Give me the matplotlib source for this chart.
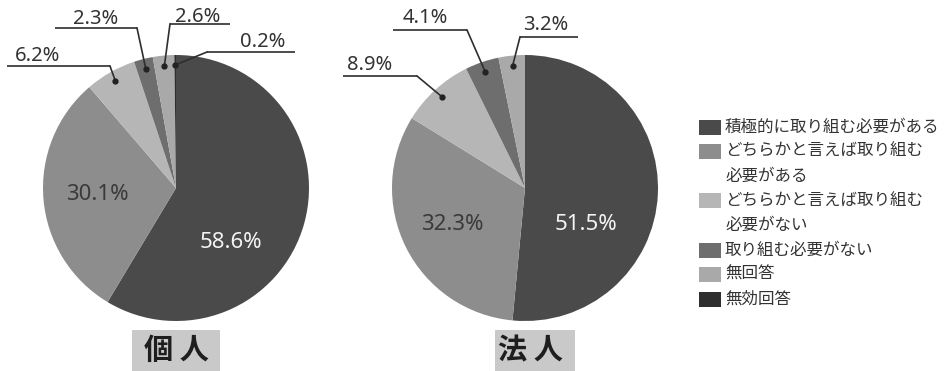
import matplotlib
matplotlib.use('Agg')
import matplotlib.pyplot as plt
from matplotlib.patches import Rectangle
import numpy as np

plt.rcParams['font.family'] = ['Noto Sans CJK JP', 'DejaVu Sans']

# ---------------- data ----------------
categories = ['積極的に取り組む必要がある',
              'どちらかと言えば取り組む\n必要がある',
              'どちらかと言えば取り組む\n必要がない',
              '取り組む必要がない',
              '無回答',
              '無効回答']
kojin_values = [58.6, 30.1, 6.2, 2.3, 2.6, 0.2]
hojin_values = [51.5, 32.3, 8.9, 4.1, 3.2, 0.0]
titles = ['個 人', '法 人']
colors = ['#4a4a4a', '#8d8d8d', '#b6b6b6', '#6e6e6e', '#a9a9a9', '#2e2e2e']

# ---------------- layout ----------------
W, H = 946, 371
fig = plt.figure(figsize=(W / 100, H / 100), dpi=100)
ax = fig.add_axes([0, 0, 1, 1])


def Y(y):
    return H - y


R = 133
pies = [
    dict(values=kojin_values, center=(176, 188), title=titles[0],
         box=(132, 330, 88, 45), title_x=176,
         inner={0: (231, 242, '#f4f4f4'), 1: (97, 195, '#3a3a3a')},
         outer={2: (15, 56, 7, 110, 66, 1),
                3: (73, 19, 55, 137, 28, 1),
                4: (175, 17, 170, 230, 24, 0),
                5: (240, 42, 207, 295, 52, 0)}),
    dict(values=hojin_values, center=(525, 188), title=titles[1],
         box=(495, 330, 80, 45), title_x=530,
         inner={0: (586, 225, '#f4f4f4'), 1: (452, 225, '#3a3a3a')},
         outer={2: (347, 65, 343, 417, 76, 1),
                3: (403, 18, 393, 467, 30, 1),
                4: (523, 25, 520, 578, 37, 0)}),
]

line_col = '#2e2e2e'
for p in pies:
    cx, cy = p['center']
    vals = p['values']
    ax.pie(vals, colors=colors, startangle=90, counterclock=False,
           center=(cx, Y(cy)), radius=R,
           wedgeprops=dict(linewidth=0))
    cum = np.cumsum([0] + list(vals))
    total = cum[-1]
    # inner labels
    for i, (tx, ty, tc) in p['inner'].items():
        ax.text(tx, Y(ty), f'{vals[i]:.1f}%', ha='center', va='center',
                fontsize=16, color=tc, family=['Noto Sans', 'DejaVu Sans'])
    # outer labels with leader lines
    for i, (tx, ty, ux0, ux1, uy, end) in p['outer'].items():
        mid = (cum[i] + cum[i + 1]) / 2 / total * 2 * np.pi
        dx = cx + 0.925 * R * np.sin(mid)
        dy = cy - 0.925 * R * np.cos(mid)
        ax.text(tx, Y(ty), f'{vals[i]:.1f}%', ha='left', va='center',
                fontsize=14.5, color='#333333', family=['Noto Sans', 'DejaVu Sans'])
        ax.plot([ux0, ux1], [Y(uy), Y(uy)], color=line_col, lw=1.2,
                solid_capstyle='butt')
        ex = ux1 if end == 1 else ux0
        ax.plot([ex, dx], [Y(uy), Y(dy)], color=line_col, lw=1.2)
        ax.plot([dx], [Y(dy)], 'o', color='#222222', ms=3.5)
    # title box
    bx, by, bw, bh = p['box']
    ax.add_patch(Rectangle((bx, Y(by + bh)), bw, bh, facecolor='#c9c9c9',
                           edgecolor='none'))
    ax.text(p['title_x'], Y(350), p['title'], ha='center', va='center',
            fontsize=21, color='#1e1e1e', fontweight='bold')

# legend
leg_y0, leg_step = 127, 24.6
line_idx = 0
for lab, col in zip(categories, colors):
    ty = leg_y0 + line_idx * leg_step
    ax.add_patch(Rectangle((699, Y(ty + 7.5)), 22, 15, facecolor=col,
                           edgecolor='none'))
    for part in lab.split('\n'):
        ty = leg_y0 + line_idx * leg_step
        ax.text(725, Y(ty), part, ha='left', va='center',
                fontsize=11.9, color='#333333')
        line_idx += 1

ax.set_xlim(0, W)
ax.set_ylim(0, H)
ax.set_aspect('equal')
ax.axis('off')
fig.savefig('out.png', dpi=100, facecolor='white')
